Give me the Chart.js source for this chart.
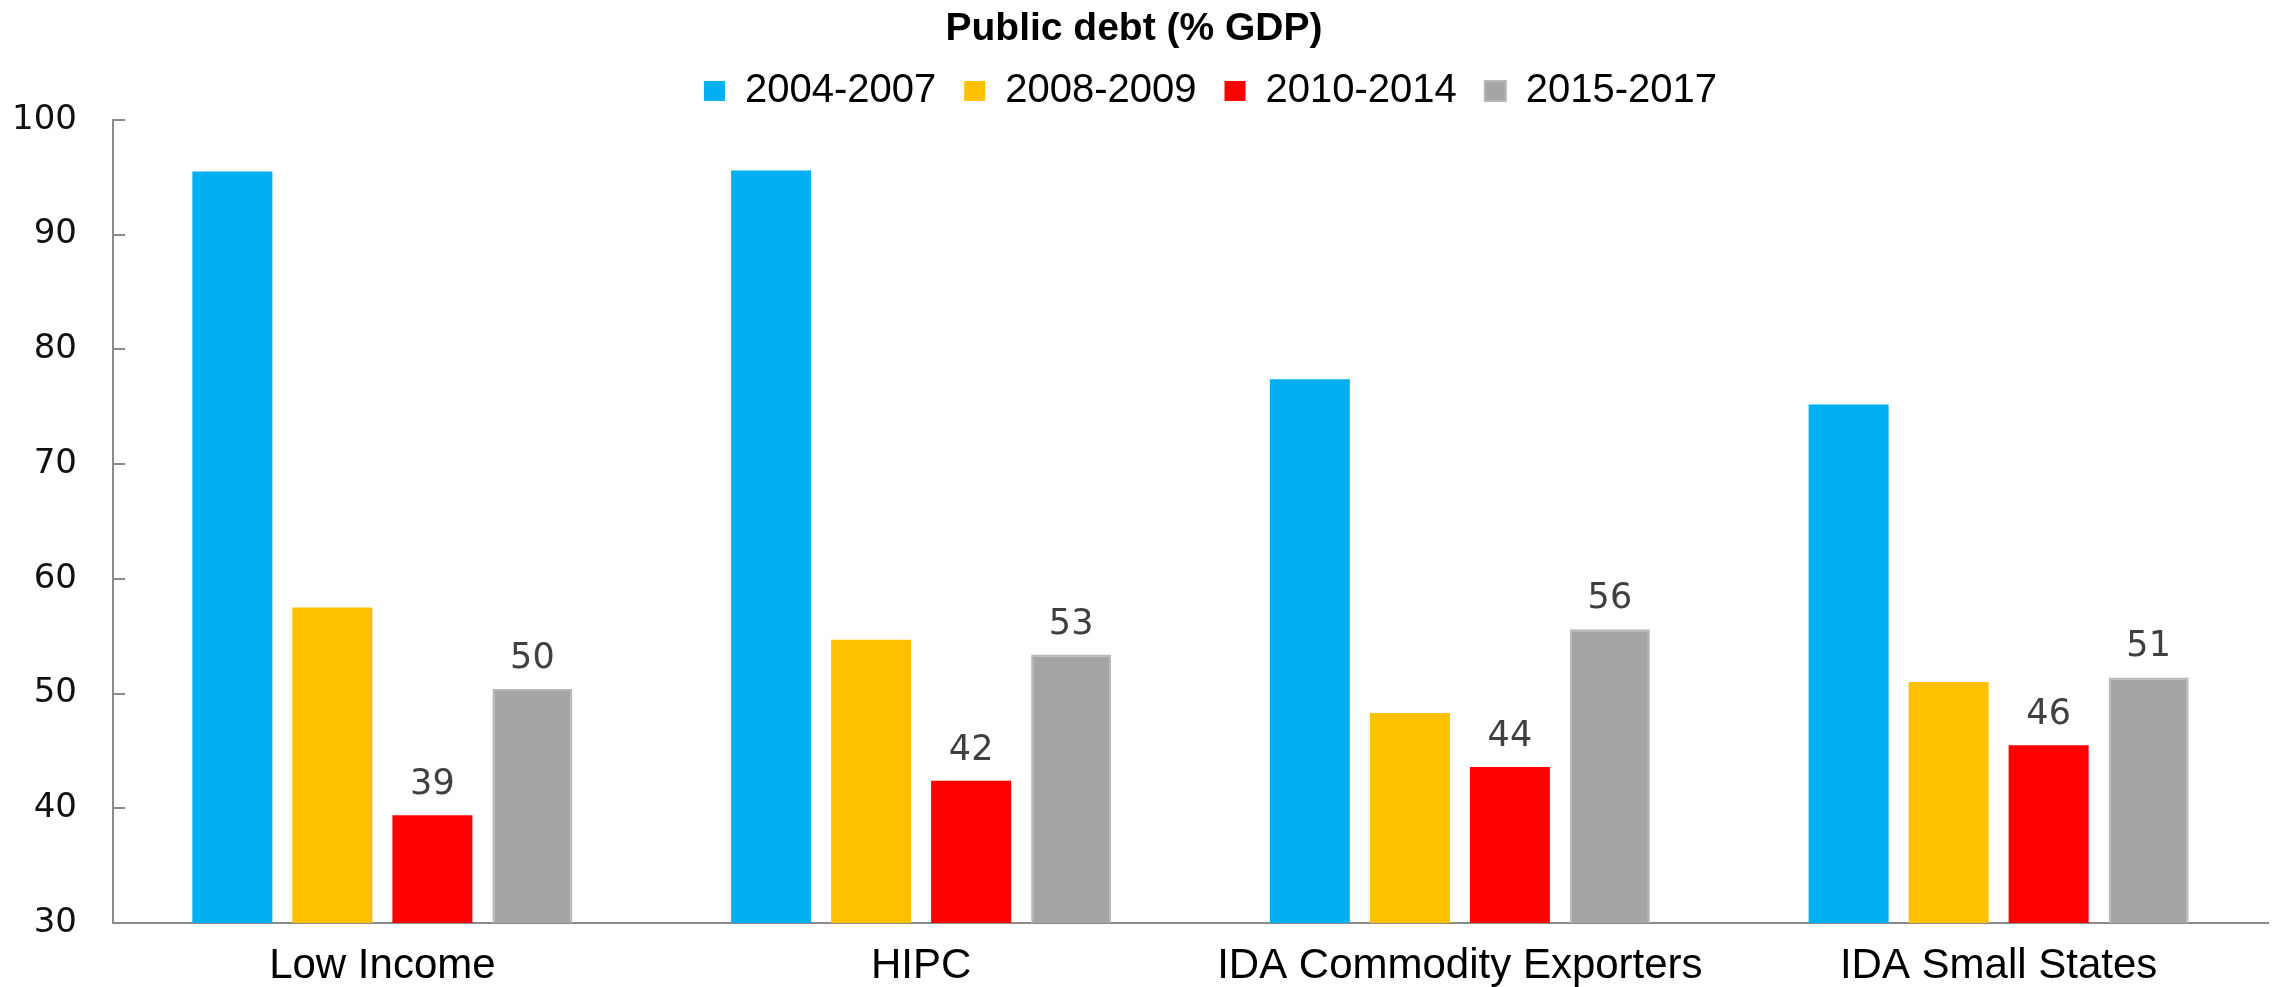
<!DOCTYPE html>
<html>
<head>
<meta charset="utf-8">
<title>Public debt (% GDP)</title>
<script src="https://cdn.jsdelivr.net/npm/chart.js@4.4.1/dist/chart.umd.min.js"></script>
<style>
  html, body { margin: 0; padding: 0; background: #fff; }
  #wrap { width: 2272px; height: 987px; position: relative; }
</style>
</head>
<body>
<div id="wrap"><canvas id="debt-chart"></canvas></div>
<script>
const categories = ['Low Income', 'HIPC', 'IDA Commodity Exporters', 'IDA Small States']
const periods = ['2004-2007', '2008-2009', '2010-2014', '2015-2017']
const debt2004_2007 = [95.5, 95.6, 77.4, 75.2]
const debt2008_2009 = [57.5, 54.7, 48.3, 51.0]
const debt2010_2014 = [39.4, 42.4, 43.6, 45.5]
const debt2015_2017 = [50.4, 53.4, 55.6, 51.4]
const yTicks = [30, 40, 50, 60, 70, 80, 90, 100]

const colors = ['#00b0f0', '#ffc000', '#ff0000', '#a5a5a5']
const axisColor = '#8a8a8a'
const textFont = '"Liberation Sans", Arial, sans-serif'
const numFont = '"DejaVu Sans", Verdana, sans-serif'

// only the two later periods carry value labels
const labelled = [false, false, true, true]
const series = [debt2004_2007, debt2008_2009, debt2010_2014, debt2015_2017]

// short inward ticks on the value axis
const inwardTicks = {
    id: 'inwardTicks',
    afterDraw(chart) {
        const y = chart.scales.y
        const ctx = chart.ctx
        ctx.save()
        ctx.strokeStyle = axisColor
        ctx.lineWidth = 2
        y.ticks.forEach(t => {
            const py = Math.round(y.getPixelForValue(t.value))
            ctx.beginPath()
            ctx.moveTo(y.right, py)
            ctx.lineTo(y.right + 12, py)
            ctx.stroke()
        })
        ctx.restore()
    }
}

// rounded values above the bars
const barValues = {
    id: 'barValues',
    afterDatasetsDraw(chart) {
        const ctx = chart.ctx
        ctx.save()
        ctx.font = '35px ' + numFont
        ctx.fillStyle = '#404040'
        ctx.textAlign = 'center'
        ctx.textBaseline = 'alphabetic'
        chart.data.datasets.forEach((ds, i) => {
            if (!labelled[i]) return
            chart.getDatasetMeta(i).data.forEach((bar, j) => {
                ctx.fillText(Math.round(ds.data[j]), bar.x, bar.y - 21)
            })
        })
        ctx.restore()
    }
}

// title and legend sit over the plot area rather than the whole canvas
const headerPlacement = {
    id: 'headerPlacement',
    afterLayout(chart) {
        const area = chart.chartArea
        const lg = chart.legend
        lg.left = area.left + 20
        lg.right = area.right + 20
        lg.top += 1
        lg.bottom += 1
        const tb = chart.titleBlock
        tb.top += 8
        tb.bottom += 8
    }
}

let ctx = document.getElementById('debt-chart').getContext('2d')
new Chart(ctx, {
    type: 'bar',
    data: {
        labels: categories,
        datasets: periods.map((p, i) => ({
            label: p,
            data: series[i],
            backgroundColor: colors[i],
            borderColor: i === 3 ? '#b8b8b8' : colors[i],
            borderWidth: i === 3 ? 2 : 0,
            categoryPercentage: 0.7425,
            barPercentage: 0.8
        }))
    },
    options: {
        responsive: true,
        maintainAspectRatio: false,
        animation: false,
        layout: { padding: { left: 0, right: 4, top: 1, bottom: 0 } },
        plugins: {
            title: {
                display: true,
                text: 'Public debt (% GDP)',
                color: '#000',
                font: { family: textFont, size: 39, weight: 'bold', lineHeight: 1.05 },
                padding: { top: 0, bottom: 0 }
            },
            legend: {
                display: true,
                position: 'top',
                labels: {
                    color: '#000',
                    font: { family: textFont, size: 40 },
                    boxWidth: 21,
                    boxHeight: 20,
                    padding: 28
                }
            },
            tooltip: { enabled: false }
        },
        scales: {
            x: {
                grid: { display: false, drawTicks: false },
                border: { display: true, color: axisColor, width: 2 },
                ticks: {
                    color: '#000',
                    font: { family: textFont, size: 42 },
                    padding: 18,
                    maxRotation: 0,
                    autoSkip: false
                },
                afterFit: s => { s.height = 64 }
            },
            y: {
                min: 30,
                max: 100,
                grid: { display: false, drawTicks: false },
                border: { display: true, color: axisColor, width: 2 },
                afterBuildTicks: s => { s.ticks = yTicks.map(v => ({ value: v })) },
                ticks: {
                    color: '#111',
                    font: { family: numFont, size: 34 },
                    padding: 36
                },
                afterFit: s => { s.width = 113 }
            }
        }
    },
    plugins: [inwardTicks, barValues, headerPlacement]
})
</script>
</body>
</html>
